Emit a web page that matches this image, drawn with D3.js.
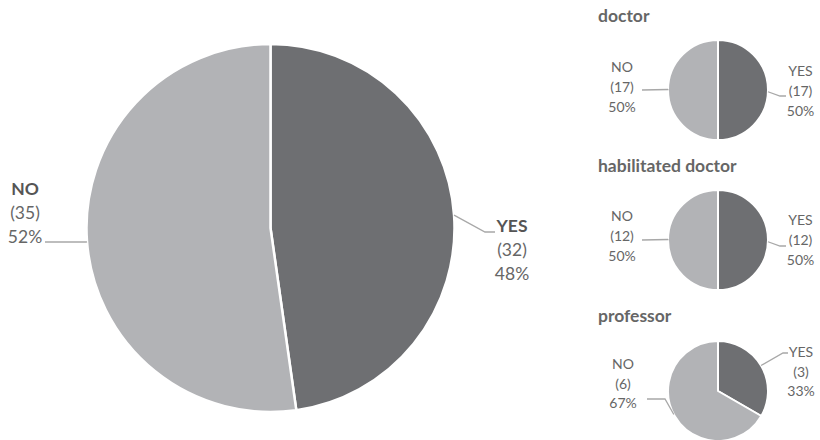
<!DOCTYPE html>
<html>
<head>
<meta charset="utf-8">
<script src="https://cdn.jsdelivr.net/npm/d3@7/dist/d3.min.js"></script>
<style>
  html, body { margin: 0; padding: 0; background: #ffffff; }
  svg { display: block; font-family: Lato, "Open Sans", sans-serif; }
</style>
</head>
<body>
<svg id="chart" width="820" height="440"></svg>
<script>
// Survey answers: overall and by academic degree
const groups = ["all", "doctor", "habilitated doctor", "professor"];
const titles = ["", "doctor", "habilitated doctor", "professor"];
const answers = ["YES", "NO"];
const yesCounts = [32, 17, 12, 3];
const noCounts = [35, 17, 12, 6];

const colors = { YES: "#6e6f72", NO: "#b2b3b6" };
const textColor = "#666666";
const boldColor = "#555555";
const leaderColor = "#a8a8a8";

// Placement of each pie and its labels
const layout = [
  { cx: 270.5, cy: 228, r: 184, stroke: 2.5, font: 17.5, lh: 24, bold: true,
    labels: {
      YES: { a: 86, elbow: [214.5, 4], end: [224.5, 4], tx: 241.5, ty: 4 },
      NO:  { a: 265.7, elbow: [-184.5, 14], end: [-225.5, 14], tx: -245.5, ty: -33 }
    } },
  { cx: 718, cy: 90, r: 50, stroke: 2, font: 14, lh: 20, bold: false, ty0: 22,
    labels: {
      YES: { a: 92, elbow: [62, 6], end: [68, 6], tx: 82.5, ty: -14 },
      NO:  { a: 271, elbow: [-50, -0.5], end: [-76, 0], tx: -96, ty: -18 }
    } },
  { cx: 718, cy: 240, r: 50, stroke: 2, font: 14, lh: 20, bold: false, ty0: 172,
    labels: {
      YES: { a: 92, elbow: [62, 6], end: [68, 6], tx: 82.5, ty: -15 },
      NO:  { a: 271, elbow: [-50, -0.5], end: [-76, 0], tx: -96, ty: -19 }
    } },
  { cx: 718, cy: 391, r: 50, stroke: 2, font: 14, lh: 19.5, bold: false, ty0: 322,
    labels: {
      YES: { a: 59.4, elbow: [65, -38], end: [70, -38], tx: 83, ty: -34 },
      NO:  { a: 242, elbow: [-53, 8], end: [-71, 8], tx: -95, ty: -22 }
    } }
];

const svg = d3.select("#chart");
const pie = d3.pie().sort(null).value(d => d.value);
const rad = Math.PI / 180;

groups.forEach((g, i) => {
  const L = layout[i];
  const data = [
    { key: "YES", value: yesCounts[i] },
    { key: "NO", value: noCounts[i] }
  ];
  const total = d3.sum(data, d => d.value);
  const arc = d3.arc().innerRadius(0).outerRadius(L.r);

  const gEl = svg.append("g").attr("transform", `translate(${L.cx},${L.cy})`);

  gEl.selectAll("path.slice")
    .data(pie(data))
    .join("path")
    .attr("class", "slice")
    .attr("d", arc)
    .attr("fill", d => colors[d.data.key])
    .attr("stroke", "#ffffff")
    .attr("stroke-width", L.stroke)
    .attr("stroke-linejoin", "round");

  if (titles[i]) {
    svg.append("text")
      .attr("x", 598)
      .attr("y", L.ty0)
      .attr("fill", textColor)
      .attr("font-size", 17.5)
      .attr("font-weight", "bold")
      .text(titles[i]);
  }

  data.forEach(d => {
    const lab = L.labels[d.key];
    const a = lab.a * rad;
    const p0 = [L.r * Math.sin(a), -L.r * Math.cos(a)];
    gEl.append("polyline")
      .attr("points", [p0, lab.elbow, lab.end].map(p => p.join(",")).join(" "))
      .attr("fill", "none")
      .attr("stroke", leaderColor)
      .attr("stroke-width", 1.3);

    const pct = Math.round(d.value / total * 100) + "%";
    const lines = [d.key, `(${d.value})`, pct];
    const t = gEl.append("text")
      .attr("text-anchor", "middle")
      .attr("font-size", L.font)
      .attr("fill", textColor);
    lines.forEach((s, k) => {
      t.append("tspan")
        .attr("x", lab.tx)
        .attr("y", lab.ty + k * L.lh)
        .attr("font-weight", k === 0 && L.bold ? "bold" : "normal")
        .attr("fill", k === 0 && L.bold ? boldColor : textColor)
        .text(s);
    });
  });
});
</script>
</body>
</html>
